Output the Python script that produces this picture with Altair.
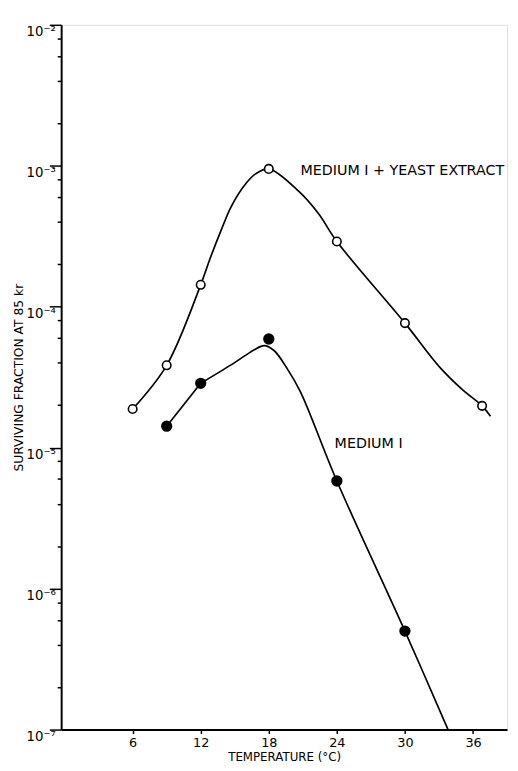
import altair as alt
import pandas as pd

# ---- data ----
yeast_temp = [6, 9, 12, 18, 24, 30, 36.8]
yeast_surv = [1.88e-5, 3.84e-5, 1.43e-4, 9.5e-4, 2.9e-4, 7.65e-5, 1.98e-5]
# drawn (hand-fitted) curve
yeast_curve_temp = [6, 9, 12, 12.82, 13.84, 14.70, 16.0, 16.87, 18, 20.63, 22.36, 24,
                    30, 33.06, 35.09, 36.8, 37.54]
yeast_curve_surv = [1.88e-5, 3.84e-5, 1.43e-4, 2.19e-4, 3.55e-4, 5.16e-4, 7.51e-4,
                    8.8e-4, 9.5e-4, 6.6e-4, 4.6e-4, 2.9e-4, 7.65e-5, 3.73e-5, 2.57e-5,
                    1.98e-5, 1.67e-5]

m1_temp = [9, 12, 18, 24, 30]
m1_surv = [1.42e-5, 2.86e-5, 5.9e-5, 5.8e-6, 5.0e-7]
m1_seg_temp = [9, 12]
m1_seg_surv = [1.42e-5, 2.86e-5]
m1_curve_temp = [12, 14.99, 16.73, 17.59, 18.46, 19.62, 20.78, 24, 30, 33.8]
m1_curve_surv = [2.86e-5, 4.01e-5, 4.96e-5, 5.29e-5, 4.89e-5, 3.64e-5, 2.50e-5,
                 5.8e-6, 5.0e-7, 1.0e-7]

x_ticks = [6, 12, 18, 24, 30, 36]
decade_exponents = [-7, -6, -5, -4, -3, -2]
minor_multipliers = [2, 4, 6, 8]

labels_text = ["MEDIUM I + YEAST EXTRACT", "MEDIUM I"]
labels_temp = [20.8, 23.8]
labels_surv = [9.2e-4, 1.06e-5]

y_values = []
for e in decade_exponents:
    y_values.append(10.0 ** e)
    if e < decade_exponents[-1]:
        for m in minor_multipliers:
            y_values.append(m * 10.0 ** e)

FONT = "DejaVu Sans"

yeast_pts = pd.DataFrame({"t": yeast_temp, "s": yeast_surv})
yeast_line = pd.DataFrame({"t": yeast_curve_temp, "s": yeast_curve_surv})
m1_pts = pd.DataFrame({"t": m1_temp, "s": m1_surv})
m1_seg = pd.DataFrame({"t": m1_seg_temp, "s": m1_seg_surv})
m1_line = pd.DataFrame({"t": m1_curve_temp, "s": m1_curve_surv})
lab = pd.DataFrame({"txt": labels_text, "t": labels_temp, "s": labels_surv})

is_major = "abs(log(datum.value)/LN10 - round(log(datum.value)/LN10)) < 0.001"
sup = "['⁰','¹','²','³','⁴','⁵','⁶','⁷','⁸','⁹']"
label_expr = f"{is_major} ? '10⁻' + {sup}[-round(log(datum.value)/LN10)] : ''"

x_enc = alt.X(
    "t:Q",
    scale=alt.Scale(domain=[-0.3, 39.0], nice=False, zero=False),
    axis=alt.Axis(
        values=x_ticks, title="TEMPERATURE (°C)", grid=False,
        tickSize=4, tickWidth=1.5, tickColor="black",
        domainColor="black", domainWidth=2,
        labelFont=FONT, labelFontSize=13, labelColor="black", labelPadding=3,
        titleFont=FONT, titleFontSize=12, titleFontWeight="normal",
        titleColor="black", titlePadding=2,
    ),
)
y_enc = alt.Y(
    "s:Q",
    scale=alt.Scale(type="log", domain=[1e-7, 1e-2], nice=False),
    axis=alt.Axis(
        values=y_values, title="SURVIVING FRACTION AT 85 kr", grid=False,
        labelExpr=label_expr, labelOverlap=False,
        tickSize={"condition": {"test": is_major, "value": 12}, "value": 4},
        tickWidth=1.5, tickColor="black",
        domainColor="black", domainWidth=2,
        labelFont=FONT, labelFontSize=13.5, labelColor="black", labelPadding=-6,
        labelBaseline="top",
        titleFont=FONT, titleFontSize=12.5, titleFontWeight="normal",
        titleColor="black", titleX=-43, titleY=358, titleAngle=270,
        titleAlign="center", titleBaseline="middle",
    ),
)

LINE = dict(color="black", strokeWidth=1.7)
l1 = alt.Chart(yeast_line).mark_line(interpolate="catmull-rom", **LINE).encode(x=x_enc, y=y_enc)
l2 = alt.Chart(m1_line).mark_line(interpolate="catmull-rom", **LINE).encode(x="t:Q", y="s:Q")
l3 = alt.Chart(m1_seg).mark_line(**LINE).encode(x="t:Q", y="s:Q")
p1 = alt.Chart(yeast_pts).mark_point(shape="circle", filled=True, fill="white", stroke="black",
                                     strokeWidth=1.6, size=75, opacity=1).encode(x="t:Q", y="s:Q")
p2 = alt.Chart(m1_pts).mark_point(shape="circle", filled=True, fill="black", stroke="black",
                                  size=90, opacity=1).encode(x="t:Q", y="s:Q")
txt = alt.Chart(lab).mark_text(align="left", baseline="middle", font=FONT, fontSize=14.5,
                               color="black").encode(x="t:Q", y="s:Q", text="txt:N")

chart = (
    alt.layer(l1, l2, l3, p1, p2, txt)
    .properties(
        width=453, height=716,
        autosize=alt.AutoSizeParams(type="none"),
        padding={"left": 54, "top": 11, "right": 3, "bottom": 36},
    )
    .configure_view(stroke=None)
    .configure(background="white")
)

chart.save("out.html", embed_options={"renderer": "svg", "actions": False})
